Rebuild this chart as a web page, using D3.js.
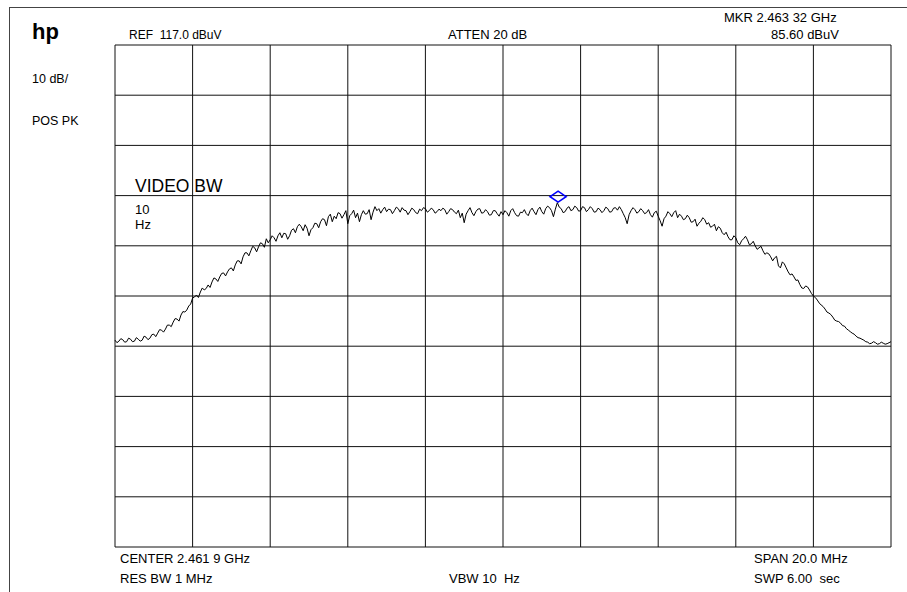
<!DOCTYPE html>
<html>
<head>
<meta charset="utf-8">
<script src="https://cdn.jsdelivr.net/npm/d3@7.9.0/dist/d3.min.js"></script>
<style>
  body { margin: 0; background: #fff; }
  svg { display: block; font-family: "Liberation Sans", Arial, sans-serif; }
  svg text { white-space: pre; }
</style>
</head>
<body>
<svg id="chart" width="907" height="592"></svg>
<script>
// Analyzer settings
const centerGHz = 2.4619;
const spanMHz = 20.0;
const refLevel = 117.0;   // dBuV at top
const dbPerDiv = 10;

// Trace: 401 sweep points across the span, dBuV
const trace = [
  58.2, 57.7, 58.0, 58.5, 58.3, 57.8, 57.9, 58.6, 58.4, 57.9, 58.0, 58.7, 58.4, 58.0, 58.2, 59.0, 58.8, 58.3, 58.6, 59.3,
  59.4, 58.9, 59.6, 60.3, 60.2, 59.8, 60.4, 61.2, 61.2, 60.9, 61.8, 62.5, 62.4, 62.0, 63.2, 63.9, 63.8, 64.2, 65.0, 65.4,
  66.6, 66.8, 67.2, 66.7, 67.8, 68.6, 68.2, 68.5, 69.2, 68.7, 69.8, 70.6, 70.4, 69.9, 70.8, 71.5, 71.6, 71.0, 71.8, 72.4,
  72.6, 72.0, 73.2, 74.0, 74.0, 73.4, 74.8, 75.6, 75.6, 75.0, 76.0, 76.9, 76.6, 75.8, 76.8, 77.6, 77.4, 76.7, 78.4, 77.6,
  78.2, 79.0, 78.6, 77.9, 79.0, 79.6, 78.6, 79.5, 79.4, 78.3, 79.0, 80.1, 80.4, 79.6, 80.8, 81.3, 80.8, 80.0, 81.2, 80.5,
  79.0, 80.2, 80.6, 81.5, 81.4, 80.6, 81.8, 82.4, 82.2, 81.0, 82.8, 83.3, 81.8, 82.9, 82.4, 83.6, 83.4, 82.5, 83.2, 84.0,
  81.4, 83.0, 83.4, 84.1, 82.6, 83.5, 81.8, 83.2, 84.0, 83.3, 83.4, 84.2, 82.2, 83.7, 84.8, 84.0, 84.4, 83.5, 84.2, 84.7,
  83.8, 84.3, 84.2, 83.4, 84.0, 84.7, 84.4, 83.7, 84.6, 84.1, 84.0, 83.2, 83.8, 84.5, 84.2, 83.6, 83.4, 84.3, 84.0, 84.6,
  84.4, 83.7, 84.0, 84.5, 84.2, 83.5, 83.8, 84.3, 84.0, 84.5, 84.2, 83.3, 83.8, 84.4, 84.2, 83.7, 83.4, 84.1, 82.6, 83.5,
  81.6, 83.3, 84.0, 84.6, 83.6, 83.0, 83.8, 84.3, 84.4, 83.5, 83.6, 84.2, 83.8, 83.1, 83.2, 84.0, 84.0, 83.4, 82.9, 83.8,
  83.2, 84.0, 83.6, 82.9, 84.0, 84.4, 83.6, 83.0, 82.9, 83.7, 83.6, 84.2, 83.4, 83.0, 84.0, 84.5, 83.8, 83.2, 84.2, 84.7,
  83.8, 83.3, 84.4, 84.9, 84.6, 84.0, 82.8, 84.3, 85.6, 84.7, 84.4, 83.6, 83.8, 84.5, 84.8, 84.0, 84.2, 84.9, 84.6, 83.9,
  84.0, 84.8, 84.6, 83.8, 84.2, 84.8, 84.4, 83.7, 83.8, 84.5, 84.2, 83.6, 84.0, 84.7, 84.4, 83.7, 83.8, 84.5, 84.6, 84.1,
  84.8, 84.2, 83.4, 82.6, 81.4, 83.2, 84.0, 84.6, 84.2, 83.5, 83.8, 84.4, 84.0, 83.4, 83.6, 84.2, 83.2, 82.7, 83.6, 83.9,
  82.9, 82.0, 80.9, 82.4, 82.9, 83.8, 83.4, 82.8, 83.6, 84.0, 82.6, 83.3, 82.9, 82.2, 82.4, 83.1, 82.6, 81.7, 81.8, 82.3,
  80.9, 81.5, 81.9, 82.6, 82.2, 81.3, 81.6, 80.7, 80.9, 81.3, 80.0, 80.8, 80.5, 79.6, 79.2, 79.7, 78.8, 78.2, 78.2, 79.0,
  78.6, 77.6, 77.2, 78.0, 78.4, 78.9, 78.2, 77.2, 77.4, 77.9, 77.0, 76.3, 76.6, 76.9, 76.0, 75.3, 75.6, 75.4, 74.8, 74.0,
  74.6, 74.9, 73.0, 72.6, 73.8, 73.4, 72.6, 71.8, 71.2, 71.4, 70.8, 70.1, 70.2, 69.3, 68.6, 68.5, 69.0, 68.8, 68.2, 67.5,
  67.0, 66.7, 66.2, 65.6, 65.2, 64.9, 64.4, 63.8, 63.6, 63.3, 62.8, 62.2, 62.0, 61.9, 61.6, 61.1, 61.0, 60.5, 60.2, 59.9,
  59.6, 59.4, 59.0, 58.7, 58.6, 58.4, 58.2, 57.9, 57.8, 57.5, 57.6, 57.9, 57.7, 57.4, 57.5, 57.8, 57.6, 57.4, 57.5, 57.7,
  57.9
];

// Marker
const markerGHz = 2.46332;
const markerLevel = 85.60;

// Annotation texts
const topLeftLabels = ["10 dB/", "POS PK"];
const headerLabels = ["REF  117.0 dBuV", "ATTEN 20 dB", "MKR 2.463 32 GHz", "85.60 dBuV"];
const footerLabels = ["CENTER 2.461 9 GHz", "RES BW 1 MHz", "VBW 10  Hz", "SPAN 20.0 MHz", "SWP 6.00  sec"];
const videoBwLines = ["10", "Hz"];

const svg = d3.select("#chart");
const plot = { left: 115, right: 891, top: 45, bottom: 547 };

const startGHz = centerGHz - spanMHz / 2000;
const stopGHz = centerGHz + spanMHz / 2000;
const x = d3.scaleLinear().domain([startGHz, stopGHz]).range([plot.left, plot.right]);
const y = d3.scaleLinear().domain([refLevel - 10 * dbPerDiv, refLevel]).range([plot.bottom, plot.top]);

// outer frame (runs off the picture on right and bottom)
svg.append("rect")
  .attr("x", 9.5).attr("y", 7.5)
  .attr("width", 1000).attr("height", 1000)
  .attr("fill", "none").attr("stroke", "#444").attr("stroke-width", 1);

// graticule: 10 x 10 divisions
const xDivs = d3.range(11).map(i => startGHz + i * spanMHz / 10000);
const yDivs = d3.range(11).map(i => refLevel - i * dbPerDiv);

svg.append("g").selectAll("line").data(xDivs).join("line")
  .attr("x1", d => x(d)).attr("x2", d => x(d))
  .attr("y1", plot.top).attr("y2", plot.bottom)
  .attr("stroke", "#111").attr("stroke-width", 1);

svg.append("g").selectAll("line").data(yDivs).join("line")
  .attr("x1", plot.left).attr("x2", plot.right)
  .attr("y1", d => y(d)).attr("y2", d => y(d))
  .attr("stroke", "#111").attr("stroke-width", 1);

// trace
const freqOf = i => startGHz + i * (spanMHz / 1000) / (trace.length - 1);
const line = d3.line().x((d, i) => x(freqOf(i))).y(d => y(d));
svg.append("path")
  .datum(trace)
  .attr("d", line)
  .attr("fill", "none")
  .attr("stroke", "#000")
  .attr("stroke-width", 1)
  .attr("stroke-linejoin", "round");

// marker diamond sits just above the peak
const mx = x(markerGHz), my = y(markerLevel) - 6;
svg.append("path")
  .attr("d", `M${mx - 8},${my} L${mx},${my - 5.5} L${mx + 8},${my} L${mx},${my + 5.5} Z`)
  .attr("fill", "none").attr("stroke", "#0000ff").attr("stroke-width", 1.6);

// text
const txt = (s, tx, ty, size, weight) => svg.append("text")
  .attr("x", tx).attr("y", ty)
  .attr("font-size", size)
  .attr("font-weight", weight || "normal")
  .attr("fill", "#000")
  .text(s);

txt("hp", 32, 39, 22, "bold");
txt(topLeftLabels[0], 32, 83, 12.5);
txt(topLeftLabels[1], 32, 125, 12.5);

txt(headerLabels[0], 129, 38.5, 12);
txt(headerLabels[1], 448, 38.5, 13);
txt(headerLabels[2], 724, 22, 13);
txt(headerLabels[3], 771, 38.5, 13);

txt(footerLabels[0], 120, 563, 13);
txt(footerLabels[1], 120, 583, 13);
txt(footerLabels[2], 449, 583, 13);
txt(footerLabels[3], 754, 563, 13);
txt(footerLabels[4], 754, 583, 13);

txt("VIDEO BW", 135, 192, 17.5);

// "10" over "Hz"
videoBwLines.forEach((s, i) => txt(s, 135, 214 + i * 14.6, 13));
</script>
</body>
</html>
